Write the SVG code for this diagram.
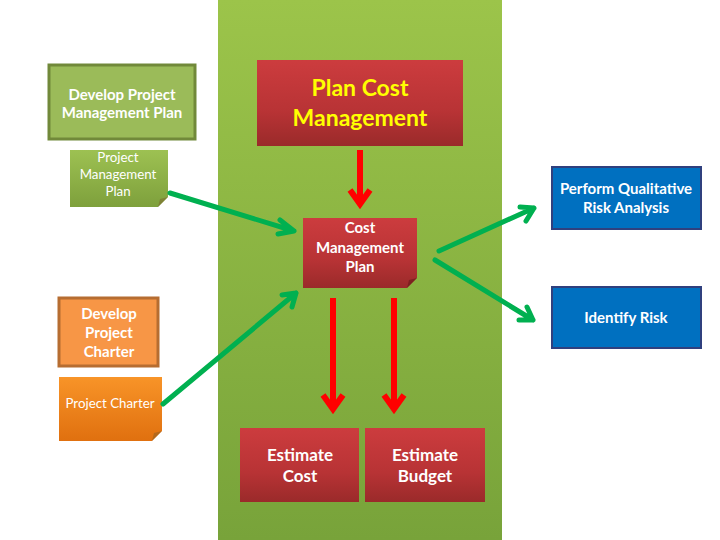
<svg xmlns="http://www.w3.org/2000/svg" width="720" height="540" viewBox="0 0 720 540">
<style>
text{font-family:Lato,"Open Sans","Liberation Sans",sans-serif;font-weight:bold;text-anchor:middle;fill:#fff}
.s13{font-size:15px}
.s12{font-size:13.3px;font-weight:normal}
.s15{font-size:17px}
.title{font-size:23px;fill:#ffff00}
.g{stroke:#00b050;stroke-width:5;fill:none;stroke-linecap:round;stroke-linejoin:round}
.r{stroke:#ff0000;stroke-width:6;fill:none;stroke-linejoin:miter}
.fold{fill:#7a5a2a;opacity:0.45}
</style>
<defs>
<linearGradient id="band" x1="0" y1="0" x2="0" y2="1"><stop offset="0" stop-color="#9cc44a"/><stop offset="1" stop-color="#78a33a"/></linearGradient>
<linearGradient id="red" x1="0" y1="0" x2="0" y2="1"><stop offset="0" stop-color="#cc3c3e"/><stop offset="0.6" stop-color="#b83335"/><stop offset="1" stop-color="#9a2a2a"/></linearGradient>
<linearGradient id="greenNote" x1="0" y1="0" x2="0" y2="1"><stop offset="0" stop-color="#9dc152"/><stop offset="1" stop-color="#7ea03c"/></linearGradient>
<linearGradient id="orNote" x1="0" y1="0" x2="0" y2="1"><stop offset="0" stop-color="#f89428"/><stop offset="1" stop-color="#e0700f"/></linearGradient>
</defs>
<rect x="218" y="0" width="284" height="540" fill="url(#band)"/>

<g id="develop-pm-plan">
<rect x="49" y="65" width="146" height="74" fill="#9bbb59" stroke="#71893a" stroke-width="3"/>
<text class="s13" x="122" y="100">Develop Project</text>
<text class="s13" x="122" y="118">Management Plan</text>
</g>
<g id="pm-plan-doc">
<path d="M70 150H168V197L158 207H70Z" fill="url(#greenNote)"/>
<path d="M168 197L158 207L160 199Z" class="fold"/>
<text class="s12" x="118" y="162">Project</text>
<text class="s12" x="118" y="179">Management</text>
<text class="s12" x="118" y="196">Plan</text>
</g>
<g id="plan-cost-mgmt">
<rect x="257" y="60" width="206" height="86" fill="url(#red)"/>
<text class="title" x="360" y="96">Plan Cost</text>
<text class="title" x="360" y="126">Management</text>
</g>
<g id="cost-mgmt-plan">
<path d="M303 218H417V278L407 288H303Z" fill="url(#red)"/>
<path d="M417 278L407 288L409 280Z" fill="#5a1515" opacity="0.5"/>
<text class="s13" x="360" y="233">Cost</text>
<text class="s13" x="360" y="253">Management</text>
<text class="s13" x="360" y="272">Plan</text>
</g>
<g id="perform-qual">
<rect x="552" y="167" width="149" height="62" fill="#0070c0" stroke="#30407e" stroke-width="2"/>
<text class="s13" x="626" y="194">Perform Qualitative</text>
<text class="s13" x="626" y="213">Risk Analysis</text>
</g>
<g id="identify-risk">
<rect x="552" y="287" width="149" height="61" fill="#0070c0" stroke="#30407e" stroke-width="2"/>
<text class="s13" x="626" y="323">Identify Risk</text>
</g>
<g id="develop-charter">
<rect x="59" y="298" width="99" height="68" fill="#f79646" stroke="#b66d31" stroke-width="3"/>
<text class="s13" x="109" y="319">Develop</text>
<text class="s13" x="109" y="338">Project</text>
<text class="s13" x="109" y="357">Charter</text>
</g>
<g id="project-charter-doc">
<path d="M59 377H162V431L152 441H59Z" fill="url(#orNote)"/>
<path d="M162 431L152 441L154 433Z" class="fold"/>
<text class="s12" x="110" y="408">Project Charter</text>
</g>
<g id="estimate-cost">
<rect x="240" y="428" width="119" height="74" fill="url(#red)"/>
<text class="s15" x="300" y="461">Estimate</text>
<text class="s15" x="300" y="482">Cost</text>
</g>
<g id="estimate-budget">
<rect x="365" y="428" width="120" height="74" fill="url(#red)"/>
<text class="s15" x="425" y="461">Estimate</text>
<text class="s15" x="425" y="482">Budget</text>
</g>

<g id="connectors">
<path class="r" d="M360 150V203M350 190L360 204L370 190"/>
<path class="r" d="M333 298V408M323 395L333 409L343 395"/>
<path class="r" d="M394 298V408M384 395L394 409L404 395"/>
<path class="g" d="M170 193L294 231M280 220L294 231L278 234"/>
<path class="g" d="M163 404L296 293M282 295L296 293L292 307"/>
<path class="g" d="M439 251L534 208M520 207L534 208L526 221"/>
<path class="g" d="M435 260L533 320M527 307L533 320L519 320"/>
</g>
</svg>
